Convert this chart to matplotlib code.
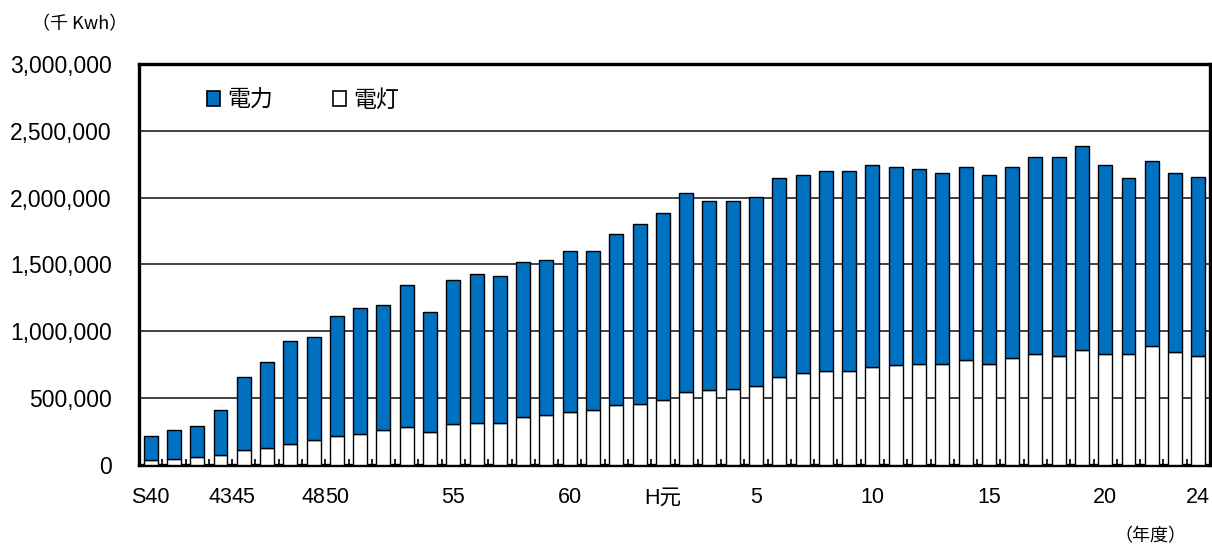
import matplotlib
matplotlib.use("Agg")
import matplotlib.pyplot as plt
from matplotlib.patches import Patch
from matplotlib.ticker import FuncFormatter, FixedLocator

# 年度 (fiscal years); S44 and S49 are not in the series
years = ["S40", "S41", "S42", "S43", "S45", "S46", "S47", "S48",
         "S50", "S51", "S52", "S53", "S54", "S55", "S56", "S57", "S58",
         "S59", "S60", "S61", "S62", "S63"] + [f"H{i}" for i in range(1, 25)]

# 電灯 (lighting) consumption, 千Kwh
lighting = [40000, 43000, 58000, 73000, 115000, 130000, 160000, 190000, 215000, 232000,
            260000, 284000, 245000, 305000, 317000, 317000, 357000, 372000, 399000, 414000,
            447000, 459000, 489000, 544000, 559000, 571000, 589000, 661000, 689000, 704000,
            704000, 734000, 746000, 758000, 758000, 786000, 758000, 803000, 831000, 818000,
            861000, 831000, 831000, 888000, 846000, 818000]

# 電力 (power) consumption, 千Kwh
power = [177000, 217000, 232000, 341000, 544000, 643000, 768000, 770000, 903000, 943000,
         940000, 1061000, 902000, 1082000, 1115000, 1098000, 1160000, 1160000, 1205000, 1190000,
         1284000, 1345000, 1400000, 1490000, 1417000, 1405000, 1415000, 1485000, 1484000, 1499000,
         1499000, 1512000, 1485000, 1460000, 1430000, 1445000, 1415000, 1428000, 1472000, 1485000,
         1527000, 1415000, 1315000, 1387000, 1342000, 1340000]

# years shown on the category axis, with their text
shown_years = ["S40", "S43", "S45", "S48", "S50", "S55", "S60", "H1", "H5", "H10", "H15", "H20", "H24"]
shown_text = ["S40", "43", "45", "48", "50", "55", "60", "H元", "5", "10", "15", "20", "24"]

y_ticks = [0, 500000, 1000000, 1500000, 2000000, 2500000, 3000000]

BLUE = "#0070C0"
LATIN = ["Liberation Sans", "Noto Sans CJK JP", "DejaVu Sans"]
CJK = ["Noto Sans CJK JP", "DejaVu Sans"]

fig = plt.figure(figsize=(12.12, 5.46), dpi=100)
ax = fig.add_axes([139 / 1212, 1 - 465 / 546, 1071 / 1212, 401 / 546])

x = list(range(len(years)))
ax.bar(x, lighting, width=0.6, color="white", edgecolor="black", linewidth=1.0, zorder=3)
ax.bar(x, power, width=0.6, bottom=lighting, color=BLUE, edgecolor="black", linewidth=1.0, zorder=3)

ax.set_xlim(-0.5, len(years) - 0.5)
ax.set_ylim(0, 3000000)

# value axis
ax.set_yticks(y_ticks)
ax.yaxis.set_major_formatter(FuncFormatter(lambda v, p: f"{int(v):,}"))
ax.tick_params(axis="y", length=0, pad=19.5, labelsize=16.5)
for lab in ax.get_yticklabels():
    lab.set_family(LATIN)
ax.grid(axis="y", color="#333333", linewidth=1.3, zorder=1)

# category axis: labels at selected years, ticks between categories
ax.xaxis.set_major_locator(FixedLocator([years.index(y) for y in shown_years]))
ax.set_xticklabels(shown_text)
ax.xaxis.set_minor_locator(FixedLocator([i + 0.5 for i in range(len(years) - 1)]))
ax.tick_params(axis="x", which="major", length=0, pad=16, labelsize=15.5)
ax.tick_params(axis="x", which="minor", direction="in", length=4, width=1.2)
for lab in ax.get_xticklabels():
    lab.set_family(LATIN)

for s in ax.spines.values():
    s.set_linewidth(2.4)
    s.set_color("black")

handles = [Patch(facecolor=BLUE, edgecolor="black", linewidth=1.2, label="電力"),
           Patch(facecolor="white", edgecolor="black", linewidth=1.2, label="電灯")]
ax.legend(handles=handles, loc="upper left", bbox_to_anchor=(0.044, 0.99), ncol=2,
          frameon=False, prop={"family": CJK, "size": 16.5},
          handlelength=0.6, handleheight=0.6, handletextpad=0.3, columnspacing=2.6)

fig.text(32 / 1212, 1 - 24 / 546, "（千 Kwh）", family=CJK, fontsize=13, va="center", ha="left")
fig.text(1186 / 1212, 1 - 536 / 546, "（年度）", family=CJK, fontsize=13, va="center", ha="right")

fig.savefig("out.png", dpi=100)
